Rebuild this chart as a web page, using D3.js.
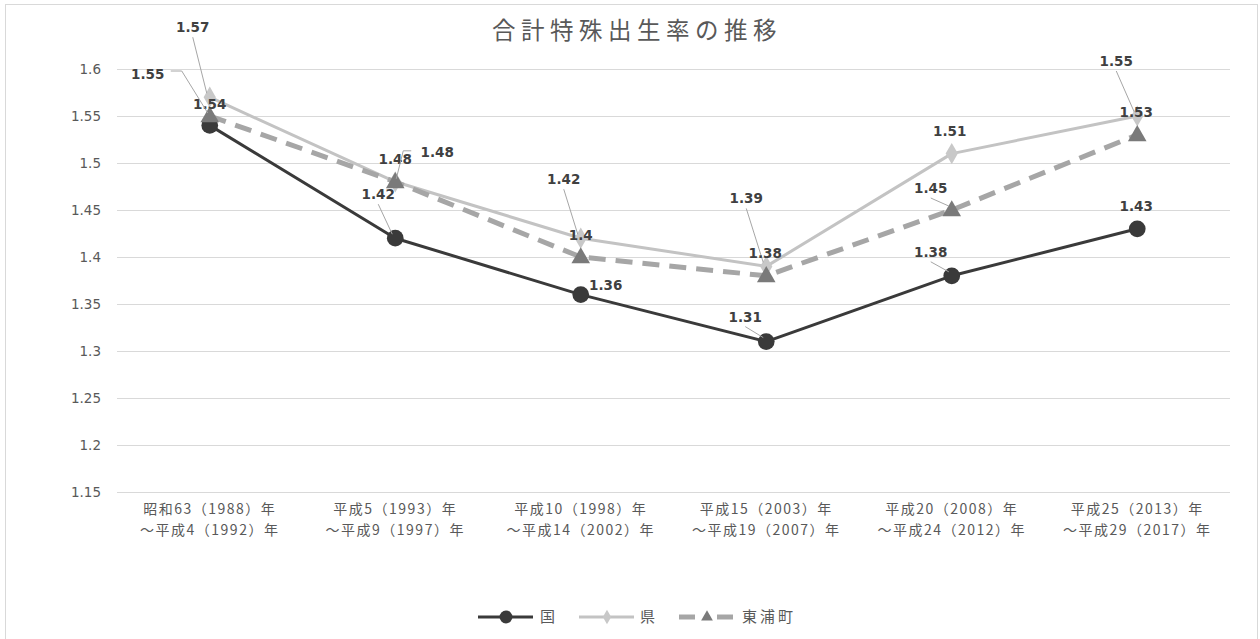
<!DOCTYPE html>
<html><head><meta charset="utf-8">
<script src="https://cdn.jsdelivr.net/npm/d3@7"></script>
<style>
html,body{margin:0;padding:0;background:#fff;}
svg{display:block;}
</style></head>
<body>
<svg id="c" width="1260" height="639"></svg>
<script>
// ---- data ----
const title = "合計特殊出生率の推移";
const categoriesLine1 = ["昭和63（1988）年","平成5（1993）年","平成10（1998）年","平成15（2003）年","平成20（2008）年","平成25（2013）年"];
const categoriesLine2 = ["～平成4（1992）年","～平成9（1997）年","～平成14（2002）年","～平成19（2007）年","～平成24（2012）年","～平成29（2017）年"];
const seriesNames = ["国","県","東浦町"];
const kuni = [1.54, 1.42, 1.36, 1.31, 1.38, 1.43];
const ken = [1.57, 1.48, 1.42, 1.39, 1.51, 1.55];
const higashiura = [1.55, 1.48, 1.40, 1.38, 1.45, 1.53];
const yTicks = [1.15, 1.2, 1.25, 1.3, 1.35, 1.4, 1.45, 1.5, 1.55, 1.6];

// ---- layout (label placement offsets relative to the point: [dx, dy, leader]) ----
const labelLayout = [
  [[0,-21,false],[-17,-44,true],[25,-10,false],[-21,-25,true],[-21,-24,true],[-1,-23,false]],
  [[-17,-70,true],[0,-23,false],[-17,-59,true],[-20,-68,true],[-2,-23,false],[-21,-55,true]],
  [[-62,-42,true],[42,-30,true],[0,-22,false],[-1,-23,false],[-21,-22,true],[-1,-23,false]]
];

const svg = d3.select("#c");
svg.append("rect").attr("x",5.5).attr("y",4.5).attr("width",1252).attr("height",640)
  .attr("fill","#fff").attr("stroke","#d9d9d9").attr("stroke-width",1);

const plot = {left:117, right:1230, top:69, bottom:492};
const x = d3.scaleBand().domain(d3.range(categoriesLine1.length)).range([plot.left, plot.right]);
const y = d3.scaleLinear().domain([1.15, 1.6]).range([plot.bottom, plot.top]);
const cx = i => x(i) + x.bandwidth()/2;

// title
svg.append("text").attr("x",637).attr("y",39).attr("text-anchor","middle")
  .attr("font-family","'Noto Sans CJK JP'").attr("font-size",23.5).attr("letter-spacing",5.5)
  .attr("fill","#595959").text(title);

// gridlines + y axis
const yAxis = d3.axisLeft(y).tickValues(yTicks).tickSize(-(plot.right-plot.left)).tickFormat(d3.format("~g")).tickPadding(16);
const gy = svg.append("g").attr("transform",`translate(${plot.left},0)`).call(yAxis);
gy.select(".domain").remove();
gy.selectAll(".tick line").attr("stroke","#d9d9d9").attr("stroke-width",1);
gy.selectAll(".tick text").attr("font-family","'DejaVu Sans'").attr("font-size",13.5).attr("fill","#595959");

// x axis labels (two separate lines)
const gx = svg.append("g").attr("transform",`translate(0,${plot.bottom})`);
[[categoriesLine1, 22], [categoriesLine2, 43]].forEach(([arr, yy])=>{
  gx.selectAll(null).data(d3.range(arr.length)).join("text")
    .attr("x", d => cx(d)).attr("y", yy).attr("text-anchor","middle")
    .attr("font-family","'Noto Sans CJK JP'").attr("font-size",14).attr("letter-spacing",1.5)
    .attr("fill","#595959").text(d => arr[d]);
});

const series = [
  {name:seriesNames[0], values:kuni, color:"#3a3a3a", marker:"#3a3a3a", width:3, dash:null, sym:d3.symbolCircle, size:220},
  {name:seriesNames[1], values:ken, color:"#c3c3c3", marker:"#c8c8c8", width:3, dash:null, sym:d3.symbolDiamond, size:130},
  {name:seriesNames[2], values:higashiura, color:"#a6a6a6", marker:"#7a7a7a", width:5, dash:"17,10", sym:d3.symbolTriangle, size:150}
];

const line = d3.line().x((d,i)=>cx(i)).y(d=>y(d));
series.forEach(s=>{
  svg.append("path").datum(s.values).attr("d",line).attr("fill","none")
    .attr("stroke",s.color).attr("stroke-width",s.width).attr("stroke-dasharray",s.dash)
    .attr("stroke-linejoin","round");
  svg.selectAll(null).data(s.values).join("path")
    .attr("d", d3.symbol().type(s.sym).size(s.size))
    .attr("transform",(d,i)=>`translate(${cx(i)},${y(d)+(s.sym===d3.symbolTriangle?1:0)})`)
    .attr("fill",s.marker);
});

// data labels with leaders
series.forEach((s,si)=>{
  s.values.forEach((v,i)=>{
    const [dx,dy,lead] = labelLayout[si][i];
    const px = cx(i), py = y(v);
    const lx = px+dx, ly = py+dy;
    if(lead){
      let pts;
      if(dx < -40){ // label to the left
        pts = [[lx+23,ly-3],[lx+34,ly-3],[px-2,py-3]];
      } else if(dx > 30){ // label to the right
        pts = [[lx-26,ly-1],[lx-34,ly-1],[px+1,py-3]];
      } else {
        pts = [[lx, ly+10],[px-3, py-4]];
      }
      svg.append("path").attr("d", d3.line()(pts)).attr("fill","none")
        .attr("stroke","#a6a6a6").attr("stroke-width",1);
    }
    svg.append("text").attr("x",lx).attr("y",ly+5).attr("text-anchor","middle")
      .attr("font-family","'DejaVu Sans'").attr("font-weight","bold").attr("font-size",13.5)
      .attr("fill","#404040").text(d3.format("~g")(v));
  });
});

// legend
const legendItems = [
  {s:series[0], x0:478, lx:540},
  {s:series[1], x0:579, lx:640},
  {s:series[2], x0:679, lx:742}
];
const ly0 = 617;
legendItems.forEach(it=>{
  const s = it.s;
  if(s.dash){
    svg.append("line").attr("x1",it.x0).attr("x2",it.x0+16).attr("y1",ly0).attr("y2",ly0).attr("stroke",s.color).attr("stroke-width",s.width);
    svg.append("line").attr("x1",it.x0+38).attr("x2",it.x0+54).attr("y1",ly0).attr("y2",ly0).attr("stroke",s.color).attr("stroke-width",s.width);
  } else {
    svg.append("line").attr("x1",it.x0).attr("x2",it.x0+55).attr("y1",ly0).attr("y2",ly0).attr("stroke",s.color).attr("stroke-width",s.width);
  }
  svg.append("path").attr("d",d3.symbol().type(s.sym).size(s.sym===d3.symbolCircle?130:60)())
    .attr("transform",`translate(${it.x0+28},${ly0})`).attr("fill",s.marker);
  svg.append("text").attr("x",it.lx).attr("y",ly0+5).attr("font-family","'Noto Sans CJK JP'")
    .attr("font-size",15).attr("letter-spacing",3).attr("fill","#595959").text(s.name);
});
</script>
</body></html>
